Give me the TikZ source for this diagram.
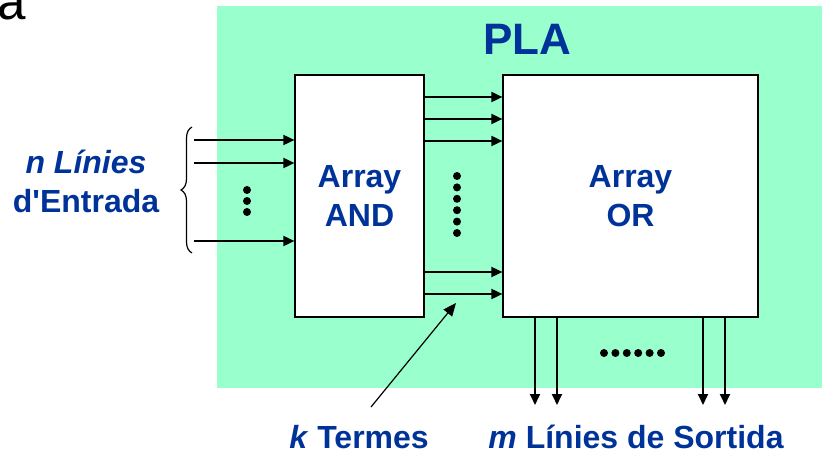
\documentclass[tikz,border=0pt]{standalone}
\usepackage{fontspec}
\setmainfont{Liberation Sans}
\newfontfamily\typefont{Liberation Mono}
\usetikzlibrary{arrows.meta,decorations.pathreplacing}
\definecolor{plagreen}{RGB}{153,255,204}
\definecolor{plablue}{RGB}{0,51,153}
\tikzset{
 lbl/.style={text=plablue,font=\bfseries\fontsize{32}{39}\selectfont,align=center,inner sep=0pt},
 arraybox/.style={lbl,draw,fill=white,line width=1.2pt},
 sig/.style={line width=1.8pt,-{Triangle[length=11pt,width=10pt]}},
 pointer/.style={line width=1.2pt,-{Triangle[length=13pt,width=11pt]}}
}
\begin{document}
\begin{tikzpicture}[x=1pt,y=-1pt]
 \useasboundingbox (0,0) rectangle (822,454);
 \node[font=\typefont\fontsize{52}{52}\selectfont,anchor=base west,inner sep=0pt] (cut) at (-4,20) {a};
 \fill[plagreen] (217,6) rectangle (822,388);
 \node[lbl,font=\bfseries\fontsize{44}{50}\selectfont] (pla) at (527,39) {PLA};
 \node[arraybox,minimum width=129pt,minimum height=242pt] (andbox) at (359.5,196) {Array\\AND};
 \node[arraybox,minimum width=255pt,minimum height=242pt] (orbox) at (630.5,196) {Array\\OR};
 \node[lbl] (inlbl) at (86,181) {\textit{n Línies}\\d\textquotesingle Entrada};
 \node[lbl] (klbl) at (359,437) {\textit{k} Termes};
 \node[lbl] (mlbl) at (636,437) {\textit{m} Línies de Sortida};
 \foreach \yy [count=\i] in {140,163,241} {
  \coordinate (in\i) at (194,\yy);
  \draw[sig] (in\i) -- (in\i -| andbox.west);
 }
 \coordinate (brbot) at (192,253);
 \coordinate (brtop) at (192,127);
 \draw[line width=1.2pt,decorate,decoration={brace,amplitude=11pt}] (brbot) -- (brtop);
 \foreach \yy in {97,119,141,272,294}
  \draw[sig] (andbox.east |- 0,\yy) -- (orbox.west |- 0,\yy);
 \foreach \xx [count=\i] in {535,557,703,725} {
  \coordinate (out\i) at (\xx,405);
  \draw[sig] (orbox.south -| out\i) -- (out\i);
 }
 \foreach \yy in {190,201,212} \fill (247,\yy) circle[radius=4pt];
 \foreach \k in {0,...,5} {
  \fill (457,176+11.4*\k) circle[radius=4pt];
  \fill (604+11.4*\k,353) circle[radius=4pt];
 }
 \coordinate (ktail) at (371,407);
 \coordinate (ktip) at (456,303);
 \draw[pointer] (ktail) -- (ktip);
\end{tikzpicture}
\end{document}
